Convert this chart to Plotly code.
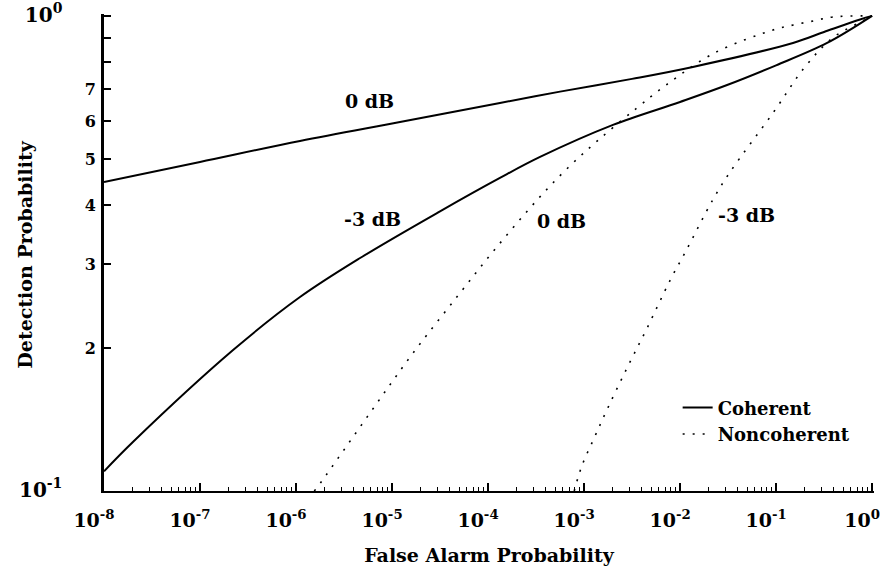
import plotly.graph_objects as go

# Detection probability versus false alarm probability
pfa_coh_0db = [1e-8, 1e-7, 1.10e-6, 1.21e-5, 1.33e-4, 5.62e-4, 3.16e-3, 1.36e-2,
               0.150, 0.316, 0.75, 1.0]
pd_coh_0db = [0.447, 0.4928, 0.5456, 0.598, 0.6556, 0.6928, 0.737, 0.781,
              0.877, 0.925, 0.983, 1.0]

pfa_coh_m3db = [1e-8, 2.0e-8, 2.21e-7, 1.10e-6, 4.65e-6, 3.16e-5, 1.33e-4, 3.48e-4,
                2.0e-3, 1e-2, 3.09e-2, 0.1, 0.34, 1.0]
pd_coh_m3db = [0.110, 0.1268, 0.198, 0.256, 0.3093, 0.3878, 0.456, 0.5048,
               0.5896, 0.659, 0.7153, 0.787, 0.877, 1.0]

pfa_noncoh_0db = [1.55e-6, 1.86e-6, 5.9e-6, 1.62e-5, 4.8e-5, 1.23e-4, 3.47e-4, 6.8e-4,
                  1.41e-3, 3.55e-3, 7.2e-3, 2.29e-2, 9.3e-2, 0.151, 0.245, 0.389, 1.0]
pd_noncoh_0db = [0.100, 0.105, 0.146, 0.194, 0.257, 0.326, 0.416, 0.479,
                 0.548, 0.640, 0.716, 0.836, 0.934, 0.957, 0.976, 0.995, 1.0]

pfa_noncoh_m3db = [7.9e-4, 9.5e-4, 1.29e-3, 1.78e-3, 2.82e-3, 4.47e-3, 7.9e-3, 1.15e-2,
                   2.19e-2, 3.31e-2, 9.3e-2, 0.20, 0.389, 0.759, 1.0]
pd_noncoh_m3db = [0.100, 0.113, 0.130, 0.150, 0.182, 0.219, 0.278, 0.320,
                  0.410, 0.469, 0.625, 0.781, 0.899, 0.971, 1.0]

x_tickvals = [1e-8, 1e-7, 1e-6, 1e-5, 1e-4, 1e-3, 1e-2, 1e-1, 1.0]
x_ticktext = ["10<sup>-8</sup>", "10<sup>-7</sup>", "10<sup>-6</sup>", "10<sup>-5</sup>",
              "10<sup>-4</sup>", "10<sup>-3</sup>", "10<sup>-2</sup>", "10<sup>-1</sup>",
              "10<sup>0</sup>"]
x_minor = [k * 10.0 ** e for e in range(-8, 0) for k in range(2, 10)]

pad = "\u00a0" * 6
big = '<span style="font-size:20px">{}</span>'
y_tickvals = [0.1, 0.2, 0.3, 0.4, 0.5, 0.6, 0.7, 0.8, 0.9, 1.0]
y_ticktext = [big.format("10<sup>-1</sup>") + pad, "2", "3", "4", "5", "6", "7", "", "",
              big.format("10<sup>0</sup>") + pad]

curve_labels = [
    ("0 dB", -5.23, -0.179),
    ("-3 dB", -5.20, -0.427),
    ("0 dB", -3.24, -0.432),
    ("-3 dB", -1.31, -0.419),
]

FONT = "DejaVu Serif"
solid = dict(color="black", width=2, shape="spline", smoothing=1.0)
dotted = dict(color="black", width=1.6, dash="2px,8px", shape="spline", smoothing=1.0)

fig = go.Figure()
fig.add_trace(go.Scatter(x=pfa_coh_0db, y=pd_coh_0db, mode="lines", line=solid,
                         name="Coherent", legendgroup="coh"))
fig.add_trace(go.Scatter(x=pfa_coh_m3db, y=pd_coh_m3db, mode="lines", line=solid,
                         name="Coherent", legendgroup="coh", showlegend=False))
fig.add_trace(go.Scatter(x=pfa_noncoh_0db, y=pd_noncoh_0db, mode="lines", line=dotted,
                         name="Noncoherent", legendgroup="non"))
fig.add_trace(go.Scatter(x=pfa_noncoh_m3db, y=pd_noncoh_m3db, mode="lines", line=dotted,
                         name="Noncoherent", legendgroup="non", showlegend=False))

for text, lx, ly in curve_labels:
    fig.add_annotation(x=lx, y=ly, xref="x", yref="y", text=text, showarrow=False,
                       font=dict(family=FONT, size=19, color="black", weight="bold"))

fig.add_annotation(x=-0.1029, y=0.495, xref="paper", yref="paper",
                   xanchor="center", yanchor="middle",
                   text="Detection Probability", textangle=-90, showarrow=False,
                   font=dict(family=FONT, size=19, color="black", weight="bold"))

fig.update_xaxes(
    type="log", range=[-8, 0.02], showline=True, linecolor="black", linewidth=2,
    tickmode="array", tickvals=x_tickvals, ticktext=x_ticktext,
    ticks="inside", ticklen=8, tickwidth=1.5, tickcolor="black",
    ticklabelshift=-10, ticklabelstandoff=11, ticklabeloverflow="allow",
    minor=dict(tickvals=x_minor, ticks="inside", ticklen=4, tickwidth=1.2,
               tickcolor="black", showgrid=False),
    showgrid=False, zeroline=False, automargin=False,
    tickfont=dict(family=FONT, size=19, color="black", weight="bold"),
    title=dict(text="False Alarm Probability", standoff=19,
               font=dict(family=FONT, size=19, color="black", weight="bold")),
)
fig.update_yaxes(
    type="log", range=[-1, 0.004], showline=True, linecolor="black", linewidth=3,
    tickmode="array", tickvals=y_tickvals, ticktext=y_ticktext,
    ticks="inside", ticklen=7, tickwidth=1.5, tickcolor="black",
    ticklabelstandoff=2, ticklabeloverflow="allow",
    showgrid=False, zeroline=False, automargin=False,
    tickfont=dict(family=FONT, size=16, color="black", weight="bold"),
)

fig.update_layout(
    width=890, height=576,
    margin=dict(l=104, r=16, t=14, b=85),
    paper_bgcolor="white", plot_bgcolor="white",
    showlegend=True,
    legend=dict(x=0.745, y=0.213, xanchor="left", yanchor="top",
                bgcolor="rgba(0,0,0,0)", tracegroupgap=0, itemwidth=30,
                font=dict(family=FONT, size=18, color="black", weight="bold")),
)

fig.write_html("out.html")
